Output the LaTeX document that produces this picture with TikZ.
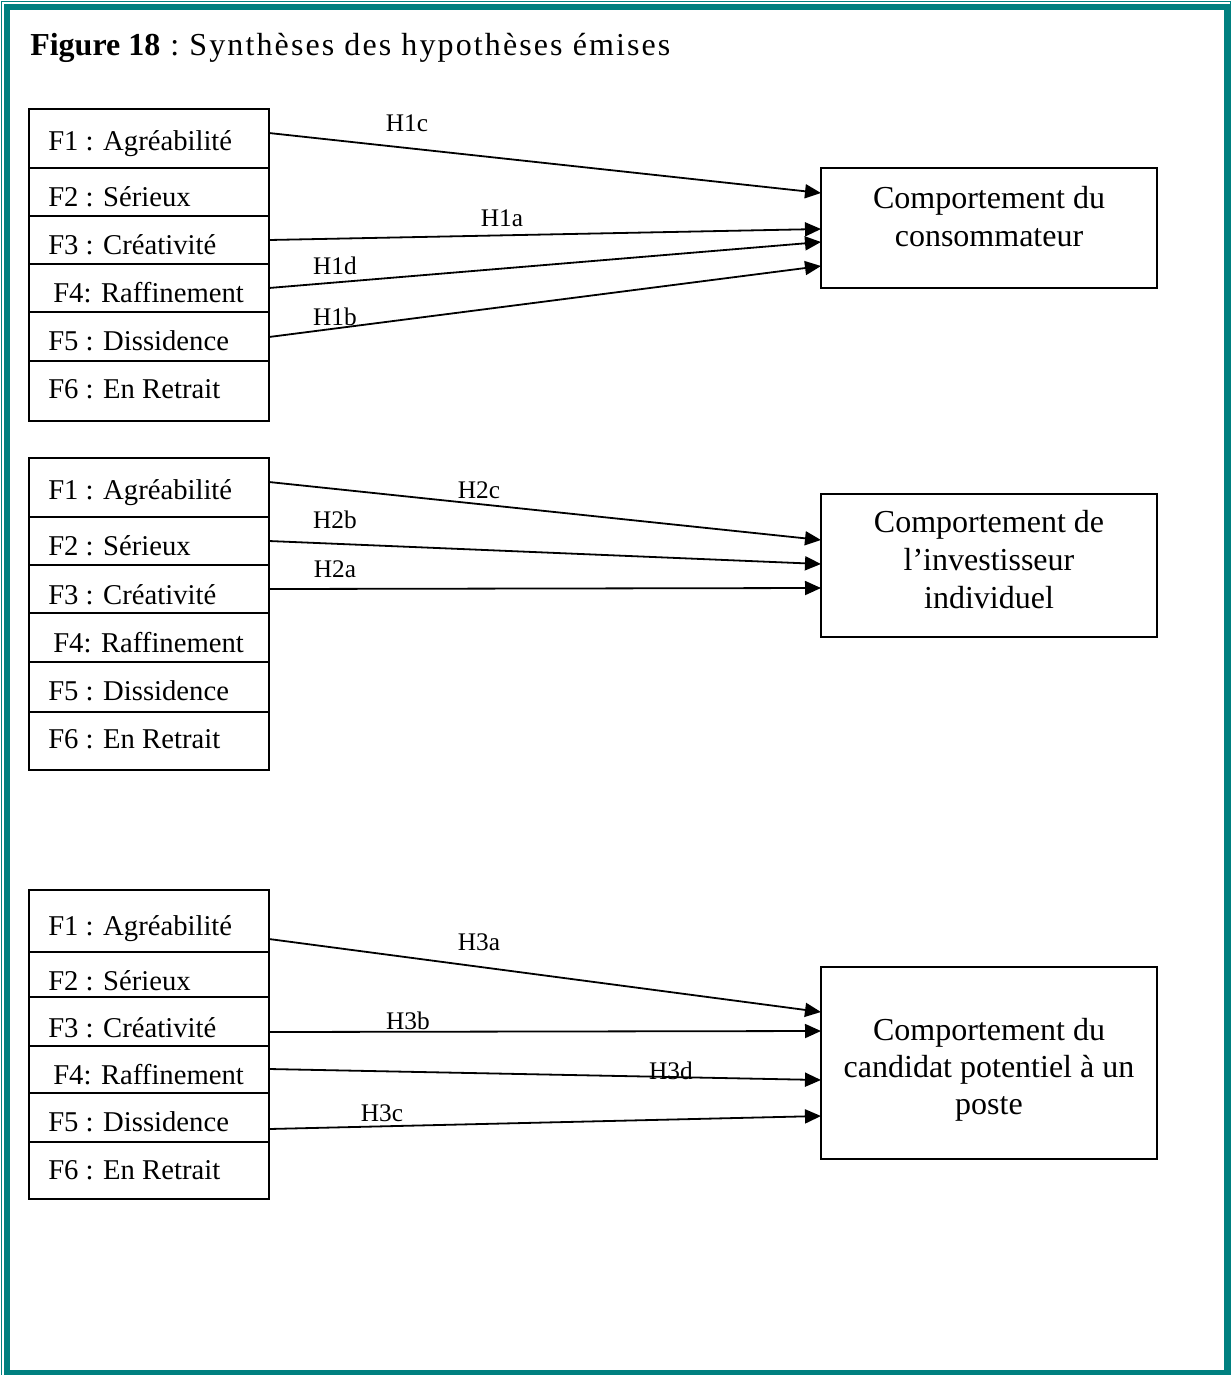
\documentclass[tikz,border=0pt]{standalone}
\usepackage{fontspec}
\setmainfont{Liberation Serif}
\newfontfamily\trackedfont{Liberation Serif}[LetterSpace=6.6]
\usetikzlibrary{arrows.meta}
\definecolor{frameteal}{RGB}{0,128,128}
\begin{document}
\begin{tikzpicture}[x=0.75pt,y=-0.75pt,
  cell/.style={draw, line width=1.5pt, rectangle, minimum width=180pt,
    inner sep=0pt, outer sep=0pt, anchor=north west},
  factor/.style={anchor=base west, inner sep=0pt, font=\fontsize{21.5}{25}\selectfont},
  target/.style={draw, line width=1.5pt, rectangle, minimum width=252pt,
    inner sep=0pt, outer sep=0pt, anchor=north west},
  tline/.style={anchor=base, inner sep=0pt, font=\fontsize{24}{28}\selectfont},
  hyp/.style={-{Triangle[length=12pt,width=10.5pt]}, line width=1.35pt},
  hlabel/.style={anchor=base, inner sep=0pt, font=\fontsize{19}{22}\selectfont}]
\useasboundingbox (0,0) rectangle (1232,1375);

% double teal frame
\draw[frameteal, line width=1.1pt] (1.5,1.5) rectangle (1230.5,1380);
\draw[frameteal, line width=4.5pt] (7,7) rectangle (1227,1372.5);

% title
\node[anchor=base west, inner sep=0pt, font=\fontsize{24}{28}\selectfont] (title) at (30,55)
  {\textbf{Figure 18}\trackedfont{} :~Synthèses des hypothèses émises};

% factor columns: name/top/height/text x/baseline/text
\foreach \nm/\tp/\hh/\tx/\bl/\lbl in {
  g1f1/109/44.25/48/150/F1 : Agréabilité,
  g1f2/168/36/48/206/F2 : Sérieux,
  g1f3/216/36/48/254/F3 : Créativité,
  g1f4/264/36/53/302/F4: Raffinement,
  g1f5/312/36.75/48/350/F5 : Dissidence,
  g1f6/361/45/48/398/F6 : En Retrait,
  g2f1/458/44.25/48/499/F1 : Agréabilité,
  g2f2/517/36/48/555/F2 : Sérieux,
  g2f3/565/36/48/604/F3 : Créativité,
  g2f4/613/36.75/53/652/F4: Raffinement,
  g2f5/662/37.5/48/700/F5 : Dissidence,
  g2f6/712/43.5/48/748/F6 : En Retrait,
  g3f1/890/46.5/48/935/F1 : Agréabilité,
  g3f2/952/33.75/48/990/F2 : Sérieux,
  g3f3/997/36.75/48/1037/F3 : Créativité,
  g3f4/1046/35.25/53/1084/F4: Raffinement,
  g3f5/1093/36.75/48/1131/F5 : Dissidence,
  g3f6/1142/42.75/48/1179/F6 : En Retrait}
{
  \node[cell, minimum height=\hh pt] (\nm) at (29,\tp) {};
  \node[factor] (\nm-t) at (\tx,\bl) {\lbl};
}

% behaviour boxes
\node[target, minimum height=90pt] (t1) at (821,167.5) {};
\node[target, minimum height=107.25pt] (t2) at (821,494) {};
\node[target, minimum height=144pt] (t3) at (821,967) {};

\node[tline] (t1l1) at (989,208) {Comportement du};
\node[tline] (t1l2) at (989,246) {consommateur};
\node[tline] (t2l1) at (989,532) {Comportement de};
\node[tline] (t2l2) at (989,570) {l’investisseur};
\node[tline] (t2l3) at (989,608) {individuel};
\node[tline] (t3l1) at (989,1040) {Comportement du};
\node[tline] (t3l2) at (989,1077) {candidat potentiel à un};
\node[tline] (t3l3) at (989,1114) {poste};

% hypotheses
\draw[hyp] (g1f1.east |- 0,133) -- (t1.west |- 0,193);
\draw[hyp] (g1f3.east |- 0,240) -- (t1.west |- 0,229);
\draw[hyp] (g1f4.east |- 0,288) -- (t1.west |- 0,242);
\draw[hyp] (g1f5.east |- 0,337) -- (t1.west |- 0,266);

\draw[hyp] (g2f1.east |- 0,482) -- (t2.west |- 0,540);
\draw[hyp] (g2f2.east |- 0,541) -- (t2.west |- 0,564);
\draw[hyp] (g2f3.east |- 0,589) -- (t2.west |- 0,588);

\draw[hyp] (g3f1.east |- 0,939) -- (t3.west |- 0,1012);
\draw[hyp] (g3f3.east |- 0,1032) -- (t3.west |- 0,1031);
\draw[hyp] (g3f4.east |- 0,1069) -- (t3.west |- 0,1080);
\draw[hyp] (g3f5.east |- 0,1129) -- (t3.west |- 0,1116);

\node[hlabel] (lH1c) at (407,131) {H1c};
\node[hlabel] (lH1a) at (502,226) {H1a};
\node[hlabel] (lH1d) at (335,274) {H1d};
\node[hlabel] (lH1b) at (335,325) {H1b};
\node[hlabel] (lH2c) at (479,498) {H2c};
\node[hlabel] (lH2b) at (335,528) {H2b};
\node[hlabel] (lH2a) at (335,577) {H2a};
\node[hlabel] (lH3a) at (479,950) {H3a};
\node[hlabel] (lH3b) at (408,1029) {H3b};
\node[hlabel] (lH3d) at (671,1079) {H3d};
\node[hlabel] (lH3c) at (382,1121) {H3c};
\end{tikzpicture}
\end{document}
